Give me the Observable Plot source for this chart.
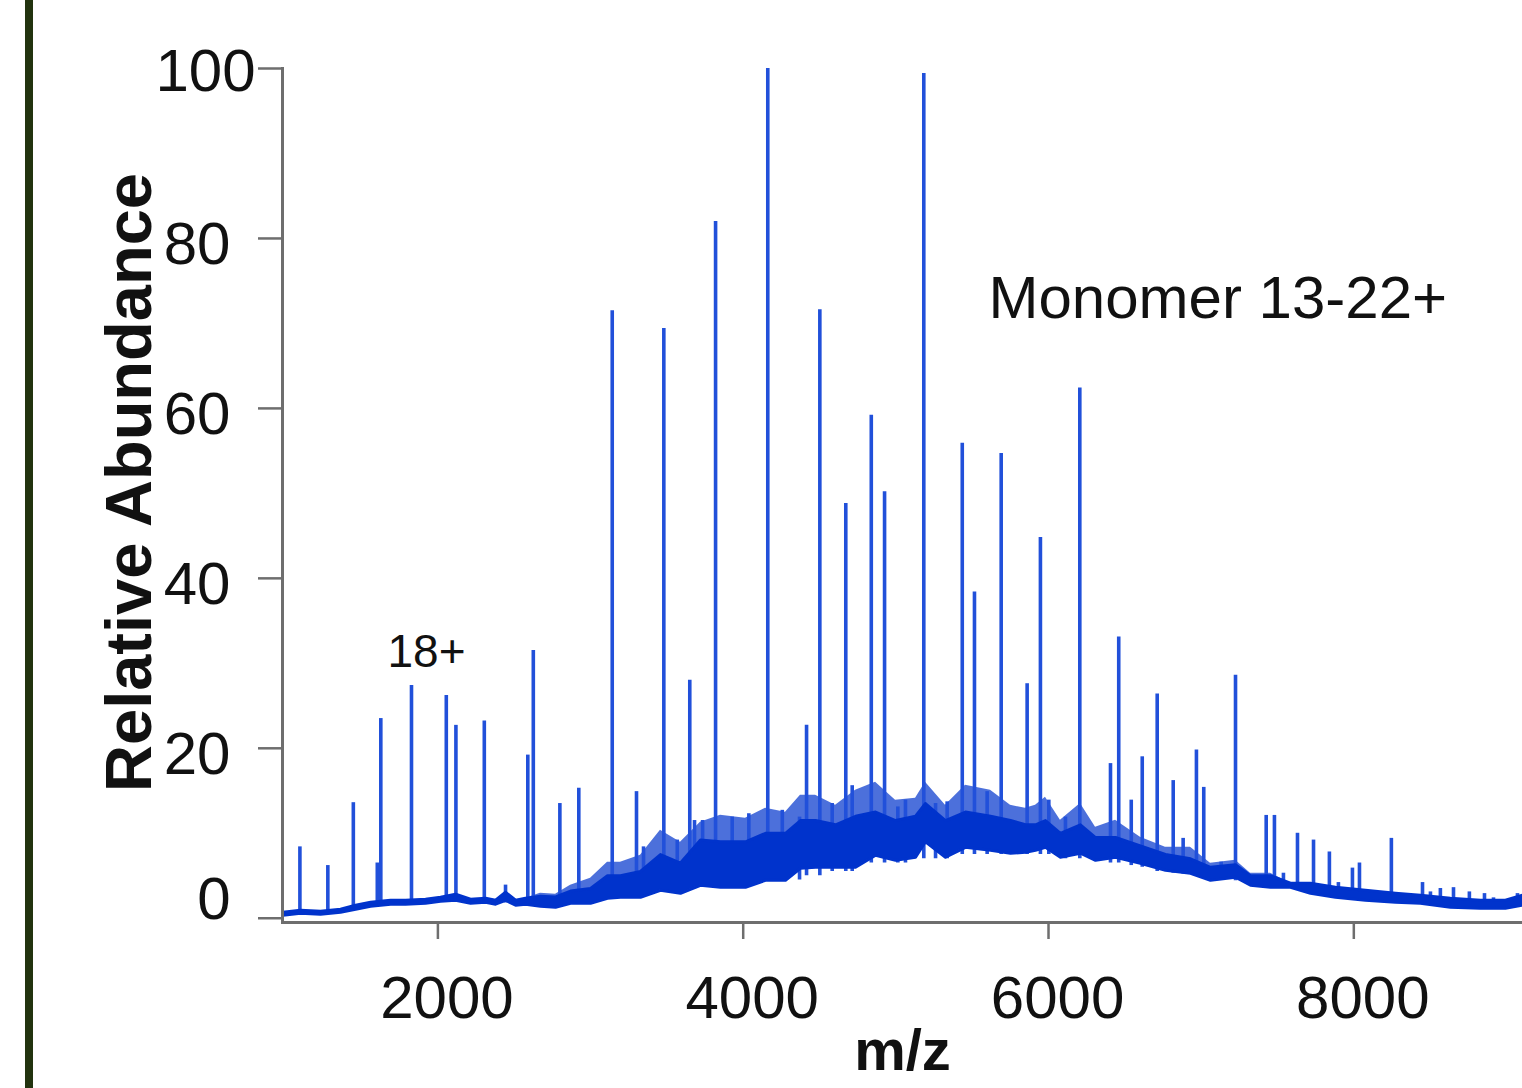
<!DOCTYPE html>
<html><head><meta charset="utf-8">
<script src="https://cdn.jsdelivr.net/npm/d3@7"></script>
<script src="https://cdn.jsdelivr.net/npm/@observablehq/plot@0.6"></script>
<style>
html,body{margin:0;padding:0;background:#fff;width:1522px;height:1088px;overflow:hidden;}
#wrap{position:relative;width:1522px;height:1088px;}
#bar{position:absolute;left:25px;top:0;width:8px;height:1088px;background:#22330f;}
#chart{position:absolute;left:0;top:0;}
#chart svg{overflow:visible;}
</style></head><body><div id="wrap"><div id="bar"></div><div id="chart"></div></div>
<script>
// Peaks: m/z, apex relative abundance, base level under the peak
const peakMz   = [1096,1279,1446,1603,1626,1827,2055,2118,2304,2443,2589,2625,2799,2923,3142,3301,3347,3480,3568,3650,3681,3734,3819,3928,4037,4161,4256,4369,4415,4502,4583,4672,4714,4839,4926,5013,5063,5183,5260,5336,5435,5515,5598,5690,5860,5947,6002,6111,6205,6406,6460,6542,6614,6712,6817,6882,6969,7017,7131,7225,7426,7480,7539,7631,7736,7840,7899,7991,8037,8246,8450,8502,8567,8653,8757,8856,8915,9072];
const peakTop  = [8.4,6.2,13.6,6.5,23.5,27.4,26.2,22.7,23.2,3.9,19.2,31.5,13.5,15.3,71.5,14.9,8.4,69.4,9.2,28,11.5,11.5,82,11.9,12.3,100,12.7,11.9,22.7,71.6,13.5,48.8,15.6,59.2,50.2,13.1,13.9,99.4,13.5,13.7,55.9,38.4,14.9,54.7,27.6,44.8,13.9,11.9,62.4,18.2,33.1,13.9,19,26.4,16.2,9.4,19.8,15.4,6.6,28.6,12.1,12.1,5.3,10,9.2,7.8,4.2,5.9,6.5,9.4,4.2,3.1,3.5,3.6,3.1,2.9,2.4,2.9];
const peakBase = [0.7,0.7,1.1,1.5,1.6,2.0,2.3,2.3,2.0,1.8,2.0,2.5,2.0,2.2,3,3,3,3.5,3.5,3.5,4,4,4,4,4,4.5,4.5,4.5,5,5,5.5,5.5,5.5,6.5,6.5,6.5,6.5,7,7,7,7.5,7.5,7.5,7.5,7.5,7.5,7.5,7,7,6.5,6.5,6.2,6,5.5,5.3,5.2,5,5,4.5,4.4,4,4,3.8,3.5,3.3,3,3,2.8,2.8,2.4,2,2,1.8,1.6,1.5,1.4,1.3,1.5];

// Noisy baseline band: m/z, lower edge, top of the dense core, top of the noise spikes
const bandMz   = [985,1100,1231,1362,1461,1559,1690,1788,1919,2017,2116,2214,2312,2378,2443,2509,2574,2672,2771,2869,3000,3111,3196,3327,3458,3589,3720,3851,4015,4146,4277,4375,4474,4605,4736,4867,4998,5129,5194,5325,5456,5620,5751,5849,5915,5980,6078,6209,6308,6439,6602,6766,6930,7061,7225,7323,7454,7585,7716,7880,8076,8273,8436,8633,8829,8993,9105];
const bandLow  = [0.35,0.6,0.47,0.7,1.06,1.41,1.65,1.65,1.76,2.0,2.12,1.76,1.88,1.65,2.12,1.53,1.65,1.41,1.29,1.76,1.76,2.35,2.47,2.47,3.29,2.94,3.88,3.65,3.65,4.47,4.47,5.88,6.0,6.0,6.0,7.41,6.82,7.18,9.0,7.18,8.35,8.0,7.65,7.76,8.0,8.35,7.18,7.65,6.82,7.18,6.47,5.65,5.29,4.47,4.82,3.88,3.65,3.65,2.94,2.47,2.12,1.88,1.76,1.29,1.18,1.18,1.53];
const bandCore = [0.7,0.94,0.82,1.06,1.53,1.88,2.12,2.12,2.24,2.47,2.82,2.24,2.35,2.12,3.06,2.12,2.35,2.6,2.5,3.2,3.5,5.0,5.0,5.5,7.5,6.5,9.2,9.0,9.0,10.0,10.0,11.5,11.5,11.0,12.0,12.5,11.5,12.0,13.5,11.5,12.5,12.0,11.5,11.0,11.0,11.5,10.0,11.0,9.5,9.5,8.5,7.5,7.0,6.0,6.3,5.0,5.0,4.12,4.12,3.65,3.29,2.94,2.71,2.35,2.12,2.12,2.71];
const bandHigh = [0.7,0.94,0.82,1.06,1.53,1.88,2.12,2.12,2.24,2.47,2.82,2.24,2.35,2.12,3.06,2.12,2.35,2.94,2.82,3.88,4.7,6.59,6.59,7.41,10.35,8.94,11.29,12.12,11.76,12.94,12.47,14.47,14.47,13.29,15.06,16.0,13.88,14.12,16.0,13.29,15.65,15.06,13.29,12.94,13.29,14.24,11.53,13.5,10.7,11.53,9.53,8.35,8.35,6.47,6.82,5.29,5.29,4.12,4.12,3.65,3.29,2.94,2.71,2.35,2.12,2.12,2.71];

const xTicks = [2000,4000,6000,8000];
const yTicks = [0,20,40,60,80,100];
const noteText  = ["Monomer 13-22+","18+"];
const noteMz    = [5607,1670];
const noteValue = [72.9,31.3];
const xLabel = "m/z";
const yLabel = "Relative Abundance";

const peaks = peakMz.map((mz,i)=>({mz, top: peakTop[i], base: peakBase[i]}));
const band  = bandMz.map((mz,i)=>({mz, lo: bandLow[i], core: bandCore[i], hi: bandHigh[i]}));
const notes = noteText.map((t,i)=>({t, mz: noteMz[i], v: noteValue[i]}));

const blue = "#0033cc";
const peakBlue = "#2150da";
const axisGray = "#6e6e6e";
const font = "'Liberation Sans', Arial, Helvetica, sans-serif";
const none = () => "";

const chart = Plot.plot({
  width: 1522, height: 1088,
  marginLeft: 282, marginRight: 0, marginTop: 68, marginBottom: 166,
  style: {fontFamily: font, background: "transparent", color: "#111"},
  x: {domain: [982, 9105]},
  y: {domain: [-0.5, 100]},
  marks: [
    Plot.areaY(band, {x: "mz", y1: "core", y2: "hi", fill: blue, fillOpacity: 0.7}),
    Plot.ruleX(peaks, {x: "mz", y1: "base", y2: "top", stroke: peakBlue, strokeWidth: 3.6}),
    Plot.areaY(band, {x: "mz", y1: "lo", y2: "core", fill: blue}),
    Plot.lineY(band, {x: "mz", y: "core", stroke: blue, strokeWidth: 3}),
    Plot.lineY(band, {x: "mz", y: "lo", stroke: blue, strokeWidth: 3}),
    Plot.frame({anchor: "left", stroke: axisGray, strokeWidth: 3}),
    Plot.frame({anchor: "bottom", stroke: axisGray, strokeWidth: 3}),
    // tick lines
    Plot.axisX({ticks: xTicks, tickSize: 17, tickFormat: none, stroke: axisGray, strokeWidth: 2.5, label: null}),
    Plot.axisY({ticks: yTicks, tickSize: 24, tickFormat: none, stroke: axisGray, strokeWidth: 2.5, label: null}),
    // tick labels
    Plot.axisX({ticks: xTicks, tickSize: 0, tickPadding: 53, fontSize: 60, dx: 9, label: null, tickFormat: d => String(d)}),
    Plot.axisY({ticks: yTicks.filter(d => d > 0 && d < 100), tickSize: 0, tickPadding: 52, fontSize: 60, dy: 6, label: null}),
    Plot.axisY({ticks: yTicks.filter(d => d === 0), tickSize: 0, tickPadding: 52, fontSize: 60, dy: -18, label: null}),
    Plot.axisY({ticks: yTicks.filter(d => d === 100), tickSize: 0, tickPadding: 27, fontSize: 60, dy: 3, label: null}),
    Plot.text(notes.slice(0,1), {x: "mz", y: "v", text: "t", textAnchor: "start", fontSize: 60, fill: "#111"}),
    Plot.text(notes.slice(1), {x: "mz", y: "v", text: "t", textAnchor: "start", fontSize: 46, fill: "#111"}),
    Plot.text([yLabel], {frameAnchor: "left", textAnchor: "middle", rotate: -90, dx: -152, dy: -13, fontSize: 65, fontWeight: "bold", fill: "#111"}),
    Plot.text([xLabel], {frameAnchor: "bottom", dy: 147, fontSize: 58, fontWeight: "bold", fill: "#111"})
  ]
});
document.getElementById("chart").appendChild(chart);
</script>
</body></html>
